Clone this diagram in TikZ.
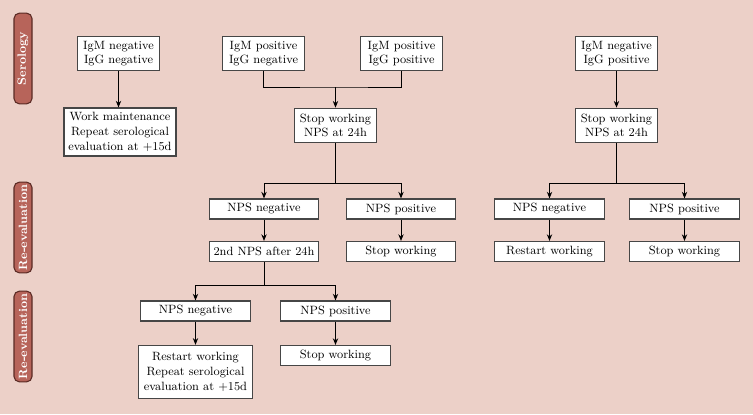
\documentclass[tikz,border=0pt]{standalone}
\usepackage{tikz}
\usetikzlibrary{calc,arrows.meta}
\usepackage{color}
\definecolor{bgpink}{RGB}{236,208,200}
\definecolor{bandred}{RGB}{183,100,90}
\definecolor{banddark}{RGB}{90,42,36}
\definecolor{boxline}{RGB}{70,70,70}

\tikzset{
  flowbox/.style={draw=boxline,fill=white,line width=0.8pt,inner sep=1pt,align=center,font=\small},
  twoline/.style={flowbox,minimum width=62pt,minimum height=26pt},
  oneline/.style={flowbox,minimum width=82pt,minimum height=15pt},
  band/.style={draw=banddark,fill=bandred,line width=0.8pt,rounded corners=4pt,rotate=90,
    minimum width=68pt,minimum height=13.5pt,inner sep=1pt,text=white,font=\small\bfseries},
  link/.style={draw=black,line width=0.7pt},
  flow/.style={link,-{Stealth[length=5pt,width=4pt]}}
}

\begin{document}
\begin{tikzpicture}[x=0.75pt,y=0.75pt,yscale=-1,xscale=1]
%background
\fill[bgpink] (0,0) rectangle (753,414);

%Bands
\node[band] (serology) at (23,58.5) {Serology};
\node[band] (reevalA) at (23,227.5) {Re-evaluation};
\node[band] (reevalB) at (23,336.5) {Re-evaluation};

% Serology row
\node[twoline] (mnegGneg) at (118.5,53.5) {IgM negative\\IgG negative};
\node[twoline] (mposGneg) at (263.5,53.5) {IgM positive\\IgG negative};
\node[twoline] (mposGpos) at (401.5,53.5) {IgM positive\\IgG positive};
\node[twoline] (mnegGpos) at (616.5,53.5) {IgM negative\\IgG positive};

% Second row
\node[flowbox,minimum width=84pt,minimum height=36pt] (workmain) at (120,132) {Work maintenance\\Repeat serological\\evaluation at $+15$d};
\node[twoline] (stopA) at (335.5,125.5) {Stop working\\NPS at 24h};
\node[twoline] (stopB) at (616.5,125.5) {Stop working\\NPS at 24h};

% First re-evaluation
\node[oneline] (npsnegA) at (264,209) {NPS negative};
\node[oneline] (npsposA) at (401,209) {NPS positive};
\node[oneline] (secondnps) at (264,251.5) {2nd NPS after 24h};
\node[oneline] (stopwA) at (401,251.5) {Stop working};

\node[oneline] (npsnegB) at (549.5,209) {NPS negative};
\node[oneline] (npsposB) at (684.5,209) {NPS positive};
\node[oneline] (restartB) at (549.5,251.5) {Restart working};
\node[oneline] (stopwB) at (684.5,251.5) {Stop working};

% Second re-evaluation
\node[oneline] (npsnegC) at (195.5,311) {NPS negative};
\node[oneline] (npsposC) at (335.5,311) {NPS positive};
\node[flowbox,minimum width=86pt,minimum height=40pt] (restartC) at (195.5,372) {Restart working\\Repeat serological\\evaluation at $+15$d};
\node[oneline] (stopwC) at (335.5,355.5) {Stop working};

%junctions
\coordinate (joinA) at (335.5,87);
\coordinate (splitA) at (335.5,183);
\coordinate (splitB) at (616.5,183);
\coordinate (splitC) at (264,285);

%Connectors
\draw[flow] (mnegGneg.south) -- (mnegGneg.south |- workmain.north);
\draw[link] (mposGneg.south) |- (joinA) -| (mposGpos.south);
\draw[flow] (joinA) -- (stopA);
\draw[flow] (mnegGpos) -- (stopB);

\draw[link] (stopA) -- (splitA);
\draw[flow] (splitA) -| (npsnegA.north);
\draw[flow] (splitA) -| (npsposA.north);
\draw[flow] (npsnegA) -- (secondnps);
\draw[flow] (npsposA) -- (stopwA);

\draw[link] (stopB) -- (splitB);
\draw[flow] (splitB) -| (npsnegB.north);
\draw[flow] (splitB) -| (npsposB.north);
\draw[flow] (npsnegB) -- (restartB);
\draw[flow] (npsposB) -- (stopwB);

\draw[link] (secondnps) -- (splitC);
\draw[flow] (splitC) -| (npsnegC.north);
\draw[flow] (splitC) -| (npsposC.north);
\draw[flow] (npsnegC) -- (restartC);
\draw[flow] (npsposC) -- (stopwC);

\end{tikzpicture}
\end{document}
